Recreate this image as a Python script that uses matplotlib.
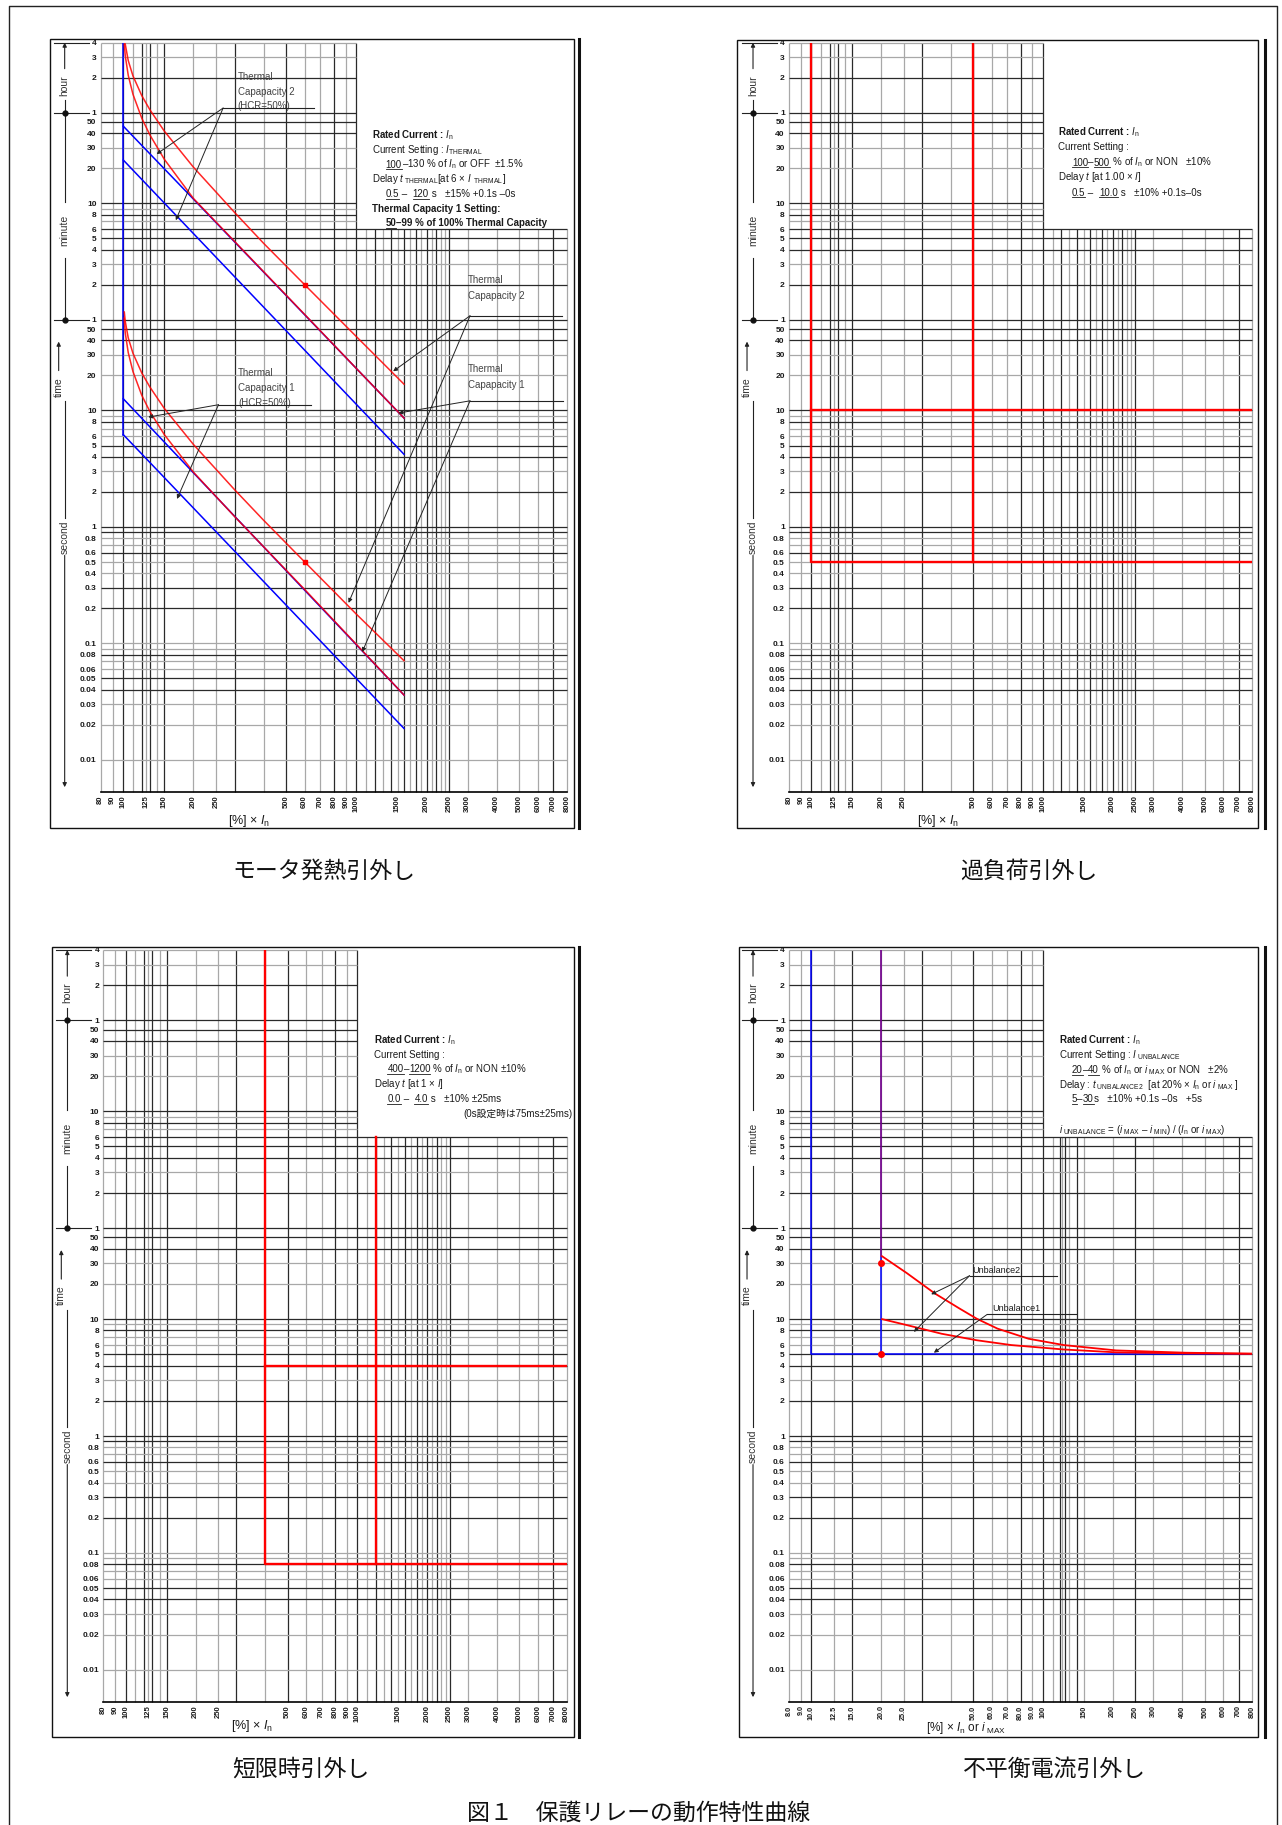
import matplotlib
matplotlib.use('Agg')
import matplotlib.pyplot as plt
from matplotlib.lines import Line2D
from matplotlib.patches import Rectangle
from matplotlib.ticker import NullLocator

W, H = 1282, 1825

plt.rcParams['font.family'] = ['Liberation Sans', 'Noto Sans CJK JP']
plt.rcParams['mathtext.fontset'] = 'custom'
plt.rcParams['mathtext.rm'] = 'Liberation Sans'
plt.rcParams['mathtext.it'] = 'Liberation Sans:italic'
plt.rcParams['mathtext.bf'] = 'Liberation Sans:bold'

# ---- 時間軸 [s] ----
t_ticks = [14400, 10800, 7200, 3600, 3000, 2400, 1800, 1200, 600, 480, 360, 300, 240, 180, 120, 60,
           50, 40, 30, 20, 10, 8, 6, 5, 4, 3, 2, 1, 0.8, 0.6, 0.5, 0.4, 0.3, 0.2,
           0.1, 0.08, 0.06, 0.05, 0.04, 0.03, 0.02, 0.01]
t_labels = ['4', '3', '2', '1', '50', '40', '30', '20', '10', '8', '6', '5', '4', '3', '2', '1',
            '50', '40', '30', '20', '10', '8', '6', '5', '4', '3', '2', '1', '0.8', '0.6', '0.5', '0.4',
            '0.3', '0.2', '0.1', '0.08', '0.06', '0.05', '0.04', '0.03', '0.02', '0.01']
t_grid_dark = [7200, 3600, 3000, 2400, 600, 480, 360, 300, 240, 120, 60, 50, 40, 10, 8, 5, 4, 2, 1,
               0.9, 0.6, 0.3, 0.2, 0.08, 0.05, 0.04]
t_grid_light = [14400, 10800, 1800, 1200, 540, 420, 180, 30, 20, 9, 7, 6, 3, 0.8, 0.7, 0.5, 0.4,
                0.1, 0.09, 0.07, 0.06, 0.03, 0.02, 0.01]
T_TOP, T_BOT, T_SPLIT = 14400, 0.0053, 360

# ---- 電流軸 [%] ----
i_ticks = [80, 90, 100, 125, 150, 200, 250, 500, 600, 700, 800, 900, 1000, 1500, 2000, 2500,
           3000, 4000, 5000, 6000, 7000, 8000]
i_grid_dark = [100, 120, 130, 150, 300, 500, 800, 1000, 1200, 1400, 1600, 1800, 2000, 2200, 2500, 7000]
i_grid_light = [80, 90, 110, 125, 140, 200, 250, 400, 600, 700, 900, 1100, 1300, 1500, 1700, 1900,
                2100, 2300, 2400, 3000, 4000, 5000, 6000, 8000]
u_ticks = [8, 9, 10, 12.5, 15, 20, 25, 50, 60, 70, 80, 90, 100, 150, 200, 250, 300, 400, 500, 600, 700, 800]
u_labels = ['8.0', '9.0', '10.0', '12.5', '15.0', '20.0', '25.0', '50.0', '60.0', '70.0', '80.0', '90.0',
            '100', '150', '200', '250', '300', '400', '500', '600', '700', '800']
u_grid_dark = [10, 15, 30, 50, 80, 100, 118, 125, 140, 250, 700]
u_grid_light = [8, 9, 12.5, 20, 25, 40, 60, 70, 90, 110, 121, 129, 150, 200, 300, 400, 500, 600, 800]

# ---- モータ発熱引外し ----
tc2_red_hi_i = [101.2, 102, 105, 110, 120, 130, 150, 200, 300, 400, 600, 1000, 1600]
tc2_red_hi_t = [14400, 13900, 10100, 7460, 5050, 3820, 2500, 1225, 502, 272, 120, 43, 16.8]
tc2_red_lo_i = [101, 102, 105, 110, 120, 130, 150, 200, 300, 600, 1000, 1600]
tc2_red_lo_t = [13870, 11050, 7545, 5190, 3233, 2322, 1433, 660, 283, 66.7, 22.9, 8.6]
tc2_blue_hi_i = [100, 1600]
tc2_blue_hi_t = [2760, 8.6]
tc2_blue_lo_i = [100, 1600]
tc2_blue_lo_t = [1413, 4.2]
tc1_red_hi_i = [101, 102, 105, 110, 120, 130, 150, 200, 300, 400, 600, 1000, 1600]
tc1_red_hi_t = [70, 58, 42, 31, 21, 15.9, 10.4, 5.1, 2.09, 1.14, 0.5, 0.178, 0.071]
tc1_red_lo_i = [100.8, 102, 105, 110, 120, 130, 150, 200, 300, 600, 1000, 1600]
tc1_red_lo_t = [62, 46, 31.4, 21.6, 13.5, 9.8, 6.2, 2.95, 1.23, 0.29, 0.098, 0.036]
tc1_blue_hi_i = [100, 1600]
tc1_blue_hi_t = [12.6, 0.036]
tc1_blue_lo_i = [100, 1600]
tc1_blue_lo_t = [6.2, 0.0186]
th_blue_v_i = [100, 100]
th_blue_v_t = [14400, 6.2]
th_dot_i = [600, 600]
th_dot_t = [120, 0.5]

# ---- 過負荷引外し ----
ol_a_i, ol_a_t = [100, 100, 8000], [14400, 0.5, 0.5]
ol_b_i, ol_b_t = [100, 8000], [10, 10]
ol_c_i, ol_c_t = [500, 500], [14400, 0.5]

# ---- 短限時引外し ----
sc_a_i, sc_a_t = [400, 400, 8000], [14400, 0.08, 0.08]
sc_b_i, sc_b_t = [400, 8000], [4, 4]
sc_c_i, sc_c_t = [1200, 1200], [360, 0.08]

# ---- 不平衡電流引外し ----
ub_blue_a_i, ub_blue_a_t = [10, 10, 800], [14400, 5, 5]
ub_blue_b_i, ub_blue_b_t = [20, 20], [14400, 5]
ub_red_v_i, ub_red_v_t = [20, 20], [14400, 34.5]
ub2_i = [20.2, 25.8, 34.1, 43.4, 51.7, 63.6, 86.6, 123, 207, 415, 800]
ub2_t = [34.5, 24.8, 16.6, 12.4, 10.1, 8.3, 6.8, 6.0, 5.4, 5.16, 5.06]
ub1_i = [20.2, 25.8, 36.5, 51.7, 73, 123, 207, 415, 800]
ub1_t = [10, 8.9, 7.5, 6.6, 6.0, 5.5, 5.2, 5.1, 5.06]
ub_dot_i = [20, 20]
ub_dot_t = [30, 5]

DARK, LIGHT = '#2a2a2a', '#a8a8a8'
RED, BLUE = '#ff0000', '#0000ff'
TXT = '#1a1a1a'

fig = plt.figure(figsize=(W / 100, H / 100), dpi=100)


def px(x, y):
    return x / W, 1 - y / H


def make_axes(l, r, t, b, xlim, ticks, labels, xsize=5.5):
    ax = fig.add_axes([l / W, 1 - b / H, (r - l) / W, (b - t) / H])
    ax.set_xscale('log')
    ax.set_yscale('log')
    ax.set_xlim(*xlim)
    ax.set_ylim(T_BOT, T_TOP)
    ax.patch.set_visible(False)
    for s in ax.spines.values():
        s.set_visible(False)
    ax.spines['bottom'].set_visible(True)
    ax.spines['bottom'].set_linewidth(1.2)
    ax.set_yticks(t_ticks)
    ax.set_yticklabels(t_labels, fontsize=6, fontweight='bold')
    ax.set_xticks(ticks)
    ax.set_xticklabels(labels, rotation=90, fontsize=xsize, fontweight='bold')
    ax.xaxis.set_minor_locator(NullLocator())
    ax.yaxis.set_minor_locator(NullLocator())
    ax.tick_params(length=0, pad=3, colors=TXT)
    ax.tick_params(axis='x', pad=2.5)
    return ax


def draw_grid(ax, xd, xl, split, xmin, xmax):
    for xs, col in ((xl, LIGHT), (xd, DARK)):
        tops = [T_TOP if x <= split else T_SPLIT for x in xs]
        ax.vlines(xs, T_BOT, tops, color=col, lw=0.9, zorder=1, clip_on=False)
    for ts, col in ((t_grid_light, LIGHT), (t_grid_dark, DARK)):
        rights = [split if t > T_SPLIT else xmax for t in ts]
        ax.hlines(ts, xmin, rights, color=col, lw=0.9, zorder=1, clip_on=False)


def time_column(ax, xmin, dec):
    def xo(p):
        return xmin * 10 ** (p / dec)
    kw = dict(color='#222222', lw=0.8, clip_on=False)
    arr = dict(arrowstyle='-|>', color='#222222', lw=0.8, mutation_scale=6, shrinkA=0, shrinkB=0)
    xl, xt = xo(-36), xo(-42)
    for t in (14400, 3600, 60):
        ax.plot([xo(-47), xo(-12)], [t, t], **kw)
    ax.annotate('', xy=(xl, 14400), xytext=(xl, 8600), arrowprops=arr, annotation_clip=False)
    ax.text(xl, 6200, 'hour', rotation=90, ha='center', va='center', fontsize=7.5, color='#333333')
    ax.plot([xl, xl], [4600, 620], **kw)
    ax.text(xl, 354, 'minute', rotation=90, ha='center', va='center', fontsize=7.5, color='#333333')
    ax.plot([xl, xl], [205, 60], **kw)
    ax.plot([xl, xl], [3600, 60], 'o', ms=3.5, color='#111111', clip_on=False)
    ax.annotate('', xy=(xt, 39), xytext=(xt, 22), arrowprops=arr, annotation_clip=False)
    ax.text(xt, 16, 'time', rotation=90, ha='center', va='center', fontsize=7.5, color='#333333')
    ax.plot([xl, xl], [12, 1.2], **kw)
    ax.text(xl, 0.82, 'second', rotation=90, ha='center', va='center', fontsize=7.5, color='#333333')
    ax.annotate('', xy=(xl, T_BOT * 1.1), xytext=(xl, 0.57), arrowprops=arr, annotation_clip=False)


def callout(ax, vertex, end, targets):
    ax.plot([vertex[0], end], [vertex[1], vertex[1]], color='#222222', lw=0.8, zorder=6)
    for tg in targets:
        ax.annotate('', xy=tg, xytext=vertex,
                    arrowprops=dict(arrowstyle='-|>', color='#222222', lw=0.7, mutation_scale=6,
                                    shrinkA=0, shrinkB=0), zorder=6)


def rich_line(x, y, parts, size=7.0, bold=False):
    r = fig.canvas.get_renderer()
    sp = 0.278 * size * 100 / 72
    cx = x
    for s, ul in parts:
        t = fig.text(cx / W, 1 - y / H, s, fontsize=size, fontweight='bold' if bold else 'normal',
                     color=TXT, ha='left', va='baseline')
        bb = t.get_window_extent(renderer=r)
        if ul:
            fig.add_artist(Line2D([bb.x0 / W, bb.x1 / W], [1 - (y + 1.8) / H] * 2,
                                  transform=fig.transFigure, color=TXT, lw=0.6))
        cx = bb.x1 + (len(s) - len(s.rstrip(' '))) * sp


def box(x0, y0, x1, y1, xthick):
    fig.add_artist(Rectangle(px(x0, y1), (x1 - x0) / W, (y1 - y0) / H, fill=False, ec='#111111',
                             lw=1.0, transform=fig.transFigure))
    fig.add_artist(Line2D([xthick / W] * 2, [1 - y0 / H, 1 - y1 / H], color='#111111', lw=2.2,
                          transform=fig.transFigure))


# outer frame
fig.add_artist(Line2D([9 / W, 9 / W, 1277 / W, 1277 / W], [0, 1 - 6 / H, 1 - 6 / H, 0],
                      color='#222222', lw=1.0, transform=fig.transFigure))

i_labels = [str(v) for v in i_ticks]

# ================= モータ発熱引外し =================
box(50, 39, 574, 828, 579)
ax1 = make_axes(100.7, 567, 42.6, 792, (80, 8000), i_ticks, i_labels)
draw_grid(ax1, i_grid_dark, i_grid_light, 1000, 80, 8000)
time_column(ax1, 80, 233)
bl = dict(color=BLUE, lw=1.1, zorder=3)
rd = dict(color=RED, lw=1.1, zorder=4, alpha=0.85)
ax1.plot(th_blue_v_i, th_blue_v_t, **bl)
ax1.plot(tc2_blue_hi_i, tc2_blue_hi_t, **bl)
ax1.plot(tc2_blue_lo_i, tc2_blue_lo_t, **bl)
ax1.plot(tc1_blue_hi_i, tc1_blue_hi_t, **bl)
ax1.plot(tc1_blue_lo_i, tc1_blue_lo_t, **bl)
ax1.plot(tc2_red_hi_i, tc2_red_hi_t, **rd)
ax1.plot(tc2_red_lo_i, tc2_red_lo_t, **rd)
ax1.plot(tc1_red_hi_i, tc1_red_hi_t, **rd)
ax1.plot(tc1_red_lo_i, tc1_red_lo_t, **rd)
ax1.plot(th_dot_i, th_dot_t, 's', ms=3, color=RED, zorder=5)

lab = dict(fontsize=7, color='#444444', ha='left', va='center', zorder=6)
ax1.text(310, 7290, 'Thermal', **lab)
ax1.text(310, 5420, 'Capapacity 2', **lab)
ax1.text(310, 4150, '(HCR=50%)', **lab)
callout(ax1, (268, 3950), 657, [(139, 1590), (168, 430)])
ax1.text(311, 21.0, 'Thermal', **lab)
ax1.text(311, 15.6, 'Capapacity 1', **lab)
ax1.text(311, 11.7, '(HCR=50%)', **lab)
callout(ax1, (256, 11.2), 636, [(128, 8.77), (170, 1.74)])
ax1.text(3010, 133, 'Thermal', **lab)
ax1.text(3010, 97, 'Capapacity 2', **lab)
callout(ax1, (3070, 65), 7580, [(1437, 21.7), (925, 0.223)])
ax1.text(3010, 22.5, 'Thermal', **lab)
ax1.text(3010, 16.7, 'Capapacity 1', **lab)
callout(ax1, (3070, 12.1), 7660, [(1515, 9.5), (1059, 0.0845)])

x0, xi = 371.6, 385.6
rich_line(x0, 138, [(r'Rated Current : $I_{\rm n}$', False)], bold=True)
rich_line(x0, 153, [(r'Current Setting : $I_{\rm THERMAL}$', False)])
rich_line(xi, 167.5, [('100', True), (r'–130 % of $I_{\rm n}$ or OFF  ±1.5%', False)])
rich_line(x0, 182, [(r'Delay $t_{\rm\ THERMAL}$[at 6 × $I_{\rm\ \ THRMAL}$]', False)])
rich_line(xi, 197, [('0.5', True), (' – ', False), ('120', True), (' s   ±15% +0.1s –0s', False)])
rich_line(x0, 212, [('Thermal Capacity 1 Setting:', False)], bold=True)
rich_line(xi, 226.5, [('50', True), ('–99 % of 100% Thermal Capacity', False)], bold=True)
fig.text(*px(249, 821), '[%] × $I_{\\rm n}$', ha='center', va='center', fontsize=9, color=TXT)

# ================= 過負荷引外し =================
box(737, 40, 1258, 828, 1265)
ax2 = make_axes(789, 1252, 42.6, 792, (80, 8000), i_ticks, i_labels)
draw_grid(ax2, i_grid_dark, i_grid_light, 1000, 80, 8000)
time_column(ax2, 80, 231.6)
rk = dict(color=RED, lw=1.7, zorder=4)
ax2.plot(ol_a_i, ol_a_t, **rk)
ax2.plot(ol_b_i, ol_b_t, **rk)
ax2.plot(ol_c_i, ol_c_t, **rk)
x0, xi = 1058, 1072
rich_line(x0, 135.5, [(r'Rated Current : $I_{\rm n}$', False)], bold=True)
rich_line(x0, 150.5, [('Current Setting :', False)])
rich_line(xi, 165.5, [('100', True), ('–', False), ('500', True), (r' % of $I_{\rm n}$ or NON   ±10%', False)])
rich_line(x0, 180.5, [(r'Delay $t$ [at 1.00 × $I$]', False)])
rich_line(xi, 195.5, [('0.5', True), (' – ', False), ('10.0', True), (' s   ±10% +0.1s–0s', False)])
fig.text(*px(938, 821), '[%] × $I_{\\rm n}$', ha='center', va='center', fontsize=9, color=TXT)

# ================= 短限時引外し =================
box(52, 947, 574, 1737, 579)
ax3 = make_axes(103.3, 566.7, 950, 1702, (80, 8000), i_ticks, i_labels)
draw_grid(ax3, i_grid_dark, i_grid_light, 1000, 80, 8000)
time_column(ax3, 80, 231.7)
ax3.plot(sc_a_i, sc_a_t, **rk)
ax3.plot(sc_b_i, sc_b_t, **rk)
ax3.plot(sc_c_i, sc_c_t, **rk)
x0, xi = 373.5, 387.4
rich_line(x0, 1043, [(r'Rated Current : $I_{\rm n}$', False)], bold=True)
rich_line(x0, 1058, [('Current Setting :', False)])
rich_line(xi, 1072, [('400', True), ('–', False), ('1200', True), (r' % of $I_{\rm n}$ or NON ±10%', False)])
rich_line(x0, 1087, [(r'Delay $t$ [at 1 × $I$]', False)])
rich_line(xi, 1102, [('0.0', True), (' – ', False), ('4.0', True), (' s   ±10% ±25ms', False)])
fig.text(*px(573, 1117), '(0s設定時は75ms±25ms)', ha='right', va='baseline', fontsize=7, color=TXT)
fig.text(*px(252, 1726), '[%] × $I_{\\rm n}$', ha='center', va='center', fontsize=9, color=TXT)

# ================= 不平衡電流引外し =================
box(739, 947, 1258, 1737, 1265)
ax4 = make_axes(789, 1252, 950, 1702, (8, 800), u_ticks, u_labels, xsize=5.2)
draw_grid(ax4, u_grid_dark, u_grid_light, 100, 8, 800)
time_column(ax4, 8, 231.6)
ax4.plot(ub_blue_a_i, ub_blue_a_t, **bl)
ax4.plot(ub_blue_b_i, ub_blue_b_t, **bl)
ax4.plot(ub_red_v_i, ub_red_v_t, color=RED, lw=1.1, alpha=0.5, zorder=4)
ax4.plot(ub2_i, ub2_t, color=RED, lw=1.3, zorder=4)
ax4.plot(ub1_i, ub1_t, color=RED, lw=1.3, zorder=4)
ax4.plot(ub_dot_i, ub_dot_t, 'o', ms=4, color=RED, zorder=5)
ax4.text(49.5, 24.0, 'Unbalance2', fontsize=6.5, color=TXT, ha='left', va='bottom', zorder=6)
callout(ax4, (48.2, 23.5), 115, [(32.9, 16.3), (27.7, 7.78)])
ax4.text(60.5, 11.2, 'Unbalance1', fontsize=6.5, color=TXT, ha='left', va='bottom', zorder=6)
callout(ax4, (57.4, 10.97), 139, [(33.8, 5.16)])
x0, xi = 1059, 1072
rich_line(x0, 1043.5, [(r'Rated Current : $I_{\rm n}$', False)], bold=True)
rich_line(x0, 1058.5, [(r'Current Setting : $I_{\rm\ UNBALANCE}$', False)])
rich_line(xi, 1073, [('20', True), ('–', False), ('40', True),
                     (r' % of $I_{\rm n}$ or $i_{\rm\ MAX}$ or NON   ±2%', False)])
rich_line(x0, 1087.5, [(r'Delay : $t_{\rm\ UNBALANCE2}$  [at 20% × $I_{\rm n}$ or $i_{\rm\ MAX}$ ]', False)])
rich_line(xi, 1102.5, [('5', True), ('–', False), ('30', True), ('s   ±10% +0.1s –0s   +5s', False)])
rich_line(x0, 1133, [(r'$i_{\rm\ UNBALANCE}$ = ($i_{\rm\ MAX}$ – $i_{\rm\ MIN}$) / ($I_{\rm n}$ or $i_{\rm\ MAX}$)', False)])
fig.text(*px(966, 1728), '[%] × $I_{\\rm n}$ or $i_{\\rm\\ MAX}$', ha='center', va='center', fontsize=8.5, color=TXT)

# ================= 見出し =================
cap = dict(ha='center', va='center', fontsize=16.5, color='#111111', family=['Noto Sans CJK JP'])
fig.text(*px(324, 871), 'モータ発熱引外し', **cap)
fig.text(*px(1029, 871), '過負荷引外し', **cap)
fig.text(*px(301, 1769), '短限時引外し', **cap)
fig.text(*px(1054, 1769), '不平衡電流引外し', **cap)
fig.text(*px(639, 1813), '図１　保護リレーの動作特性曲線', **cap)

fig.savefig('out.png', dpi=100)
